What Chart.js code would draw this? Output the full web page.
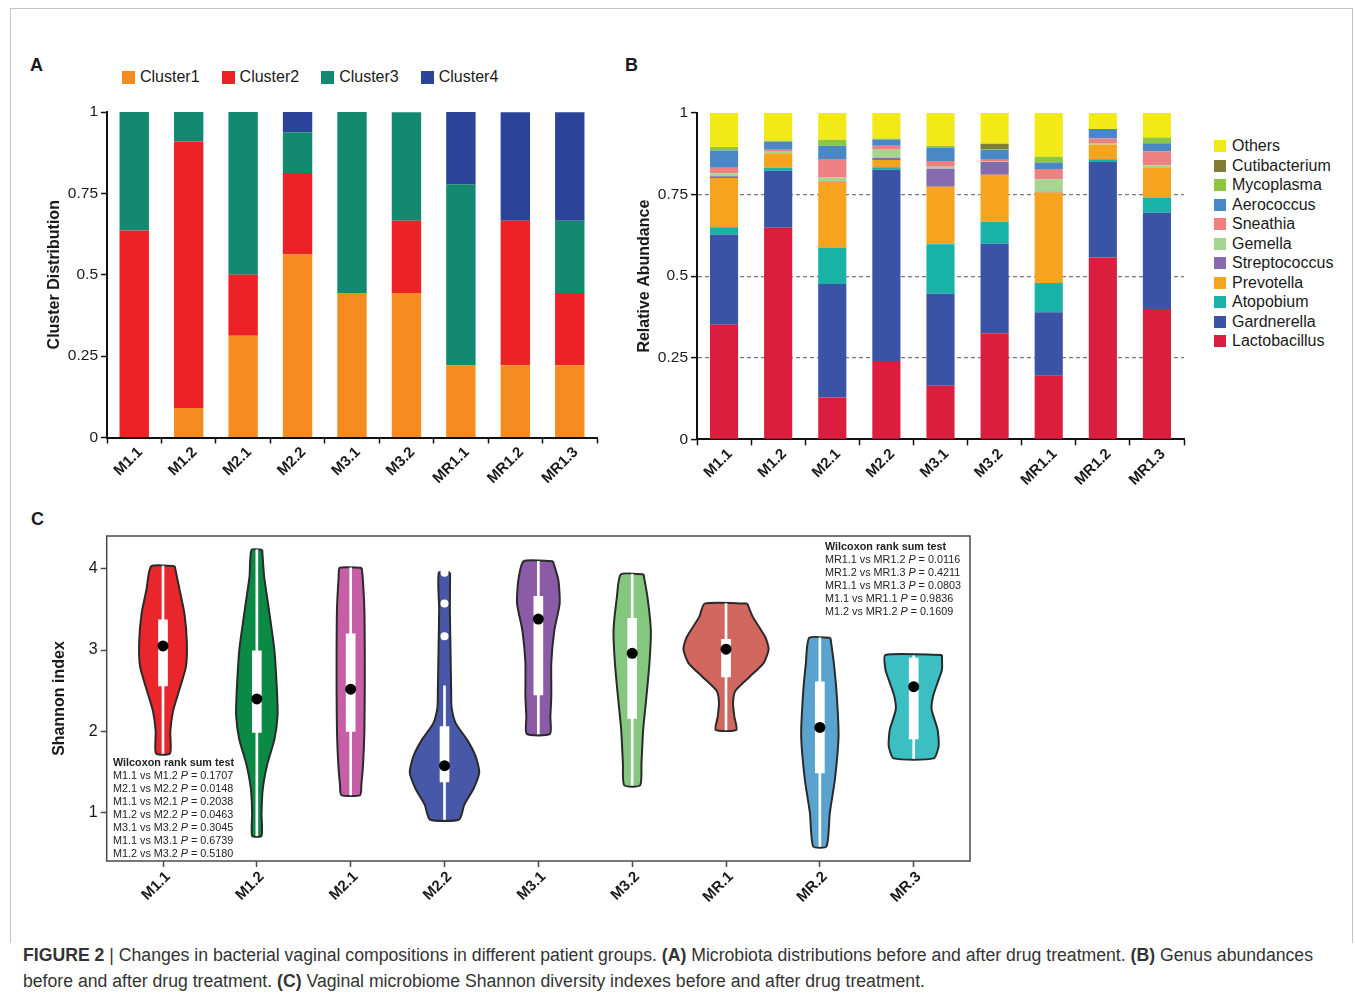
<!DOCTYPE html>
<html>
<head>
<meta charset="utf-8">
<title>Figure 2</title>
<script src="https://cdn.jsdelivr.net/npm/chart.js@4.4.1/dist/chart.umd.min.js"></script>
<style>
  body { margin: 0; width: 1355px; height: 996px; position: relative; overflow: hidden; background: #fff;
         font-family: "Liberation Sans", Arial, sans-serif; color: #1a1a1a; }
  .frame { position: absolute; left: 10px; top: 8px; width: 1341px; height: 934px; border: 1px solid #c4c4c4; border-bottom: 0; }
  canvas { position: absolute; }
  .letter { position: absolute; font-weight: bold; font-size: 18px; }
  .legend-a { position: absolute; left: 122px; top: 68px; display: flex; gap: 22px; font-size: 16px; }
  .legend-a .item { display: flex; align-items: center; }
  .sw { display: inline-block; width: 13px; height: 13px; margin-right: 5px; }
  .legend-b { position: absolute; left: 1214px; top: 136px; font-size: 16px; line-height: 19.5px; white-space: nowrap; }
  .legend-b .sw { width: 12px; height: 12px; margin-right: 6px; vertical-align: -1px; }
  .stats { position: absolute; font-size: 10.8px; line-height: 13px; color: #222; white-space: nowrap; }
  .caption { position: absolute; left: 23px; top: 942px; font-family: "Liberation Sans", Arial, sans-serif;
             font-size: 18px; line-height: 26px; color: #333; white-space: nowrap; }
  .caption span { display: block; transform-origin: 0 50%; width: max-content; }
</style>
</head>
<body>
<div class="frame"></div>

<div class="letter" style="left:30px;top:55px">A</div>
<div class="letter" style="left:625px;top:55px">B</div>
<div class="letter" style="left:31px;top:509px">C</div>

<canvas id="chartA" width="590" height="400" style="left:20px;top:95px"></canvas>
<canvas id="chartB" width="600" height="400" style="left:610px;top:95px"></canvas>
<canvas id="chartC" width="970" height="400" style="left:20px;top:520px"></canvas>

<div class="legend-a" id="legendA"></div>
<div class="legend-b" id="legendB"></div>

<div class="stats" style="left:113px;top:756px">
  <b>Wilcoxon rank sum test</b><br>
  M1.1 vs M1.2 <i>P</i> = 0.1707<br>
  M2.1 vs M2.2 <i>P</i> = 0.0148<br>
  M1.1 vs M2.1 <i>P</i> = 0.2038<br>
  M1.2 vs M2.2 <i>P</i> = 0.0463<br>
  M3.1 vs M3.2 <i>P</i> = 0.3045<br>
  M1.1 vs M3.1 <i>P</i> = 0.6739<br>
  M1.2 vs M3.2 <i>P</i> = 0.5180
</div>
<div class="stats" style="left:825px;top:540px">
  <b>Wilcoxon rank sum test</b><br>
  MR1.1 vs MR1.2 <i>P</i> = 0.0116<br>
  MR1.2 vs MR1.3 <i>P</i> = 0.4211<br>
  MR1.1 vs MR1.3 <i>P</i> = 0.0803<br>
  M1.1 vs MR1.1 <i>P</i> = 0.9836<br>
  M1.2 vs MR1.2 <i>P</i> = 0.1609
</div>

<div class="caption" id="caption">
  <span id="capLine1"><b>FIGURE 2</b> | Changes in bacterial vaginal compositions in different patient groups. <b>(A)</b> Microbiota distributions before and after drug treatment. <b>(B)</b> Genus abundances</span>
  <span id="capLine2">before and after drug treatment. <b>(C)</b> Vaginal microbiome Shannon diversity indexes before and after drug treatment.</span>
</div>

<script>
// ---- panel A: cluster distribution ----
const groupsAB = ['M1.1', 'M1.2', 'M2.1', 'M2.2', 'M3.1', 'M3.2', 'MR1.1', 'MR1.2', 'MR1.3'];
const clusterNames = ['Cluster1', 'Cluster2', 'Cluster3', 'Cluster4'];
const clusterColors = ['#f68b1f', '#ed2227', '#138a70', '#2b4399'];
const cluster1 = [0, 0.091, 0.3125, 0.5625, 0.444, 0.444, 0.222, 0.222, 0.222];
const cluster2 = [0.636, 0.818, 0.1875, 0.25, 0, 0.222, 0, 0.444, 0.222];
const cluster3 = [0.364, 0.091, 0.5, 0.125, 0.556, 0.333, 0.556, 0, 0.222];
const cluster4 = [0, 0, 0, 0.0625, 0, 0, 0.222, 0.333, 0.333];

// ---- panel B: genus abundance (bottom to top) ----
const genusNames = ['Lactobacillus', 'Gardnerella', 'Atopobium', 'Prevotella', 'Streptococcus', 'Gemella',
                    'Sneathia', 'Aerococcus', 'Mycoplasma', 'Cutibacterium', 'Others'];
const genusColors = ['#dc1e3e', '#3a53a4', '#19b2a6', '#f6a31f', '#8769b0', '#a6d58f',
                     '#ef8081', '#4a87c7', '#8dc641', '#807c32', '#f2e918'];
const lactobacillus = [0.351, 0.648, 0.128, 0.240, 0.164, 0.325, 0.195, 0.557, 0.399];
const gardnerella   = [0.277, 0.175, 0.348, 0.586, 0.282, 0.274, 0.194, 0.293, 0.295];
const atopobium     = [0.022, 0.009, 0.112, 0.008, 0.152, 0.068, 0.090, 0.008, 0.047];
const prevotella    = [0.151, 0.045, 0.201, 0.022, 0.176, 0.144, 0.277, 0.045, 0.093];
const streptococcus = [0.005, 0, 0.002, 0.007, 0.055, 0.039, 0.003, 0, 0];
const gemella       = [0.009, 0.004, 0.011, 0.027, 0.006, 0.003, 0.038, 0.005, 0.006];
const sneathia      = [0.017, 0.006, 0.057, 0.010, 0.018, 0.004, 0.031, 0.014, 0.042];
const aerococcus    = [0.053, 0.025, 0.041, 0.018, 0.041, 0.030, 0.020, 0.029, 0.025];
const mycoplasma    = [0.011, 0.003, 0.018, 0.004, 0.005, 0.003, 0.018, 0, 0.018];
const cutibacterium = [0, 0, 0, 0, 0, 0.016, 0, 0, 0];
const others        = [0.104, 0.085, 0.082, 0.078, 0.101, 0.094, 0.134, 0.049, 0.075];
const fractionTicks = [0, 0.25, 0.5, 0.75, 1];

// ---- panel C: Shannon index violins ----
const shannonGroups = ['M1.1', 'M1.2', 'M2.1', 'M2.2', 'M3.1', 'M3.2', 'MR.1', 'MR.2', 'MR.3'];
const violinColors = ['#e8262b', '#0b8a45', '#c65fa6', '#4858a8', '#8a5ca8', '#84c880', '#d1675e', '#5aa3cf', '#3bbfc3'];
// outline levels (top -> bottom) and half widths in category units
const shapeLevels = [
  [4.03, 3.75, 3.45, 3.10, 2.80, 2.50, 2.25, 2.00, 1.73],
  [4.23, 3.90, 3.50, 3.00, 2.50, 2.20, 1.90, 1.60, 1.30, 1.00, 0.72],
  [4.01, 3.90, 3.50, 3.00, 2.50, 2.00, 1.60, 1.35, 1.22],
  [3.95, 3.50, 3.00, 2.50, 2.30, 2.10, 1.90, 1.70, 1.50, 1.30, 1.10, 0.92],
  [4.09, 3.86, 3.57, 3.24, 2.84, 2.43, 2.18, 1.97],
  [3.93, 3.65, 3.24, 2.84, 2.43, 2.02, 1.61, 1.34],
  [3.57, 3.41, 3.16, 3.01, 2.84, 2.67, 2.50, 2.35, 2.18, 2.02],
  [3.15, 2.84, 2.43, 1.94, 1.41, 1.00, 0.59],
  [2.94, 2.76, 2.60, 2.43, 2.27, 2.02, 1.82, 1.67]
];
const shapeWidths = [
  [0.125, 0.175, 0.228, 0.254, 0.245, 0.171, 0.107, 0.078, 0.075],
  [0.057, 0.078, 0.128, 0.187, 0.214, 0.221, 0.187, 0.112, 0.064, 0.050, 0.050],
  [0.117, 0.128, 0.146, 0.150, 0.150, 0.146, 0.132, 0.114, 0.100],
  [0.060, 0.057, 0.064, 0.071, 0.075, 0.120, 0.240, 0.330, 0.370, 0.310, 0.210, 0.157],
  [0.156, 0.213, 0.227, 0.170, 0.138, 0.138, 0.128, 0.124],
  [0.121, 0.163, 0.199, 0.184, 0.152, 0.117, 0.099, 0.085],
  [0.227, 0.284, 0.418, 0.454, 0.400, 0.250, 0.100, 0.075, 0.089, 0.110],
  [0.113, 0.149, 0.181, 0.199, 0.160, 0.106, 0.071],
  [0.301, 0.301, 0.255, 0.206, 0.191, 0.255, 0.266, 0.213]
];
const whiskerLow  = [1.73, 0.72, 1.22, 0.92, 1.97, 1.34, 2.02, 0.59, 1.67];
const whiskerHigh = [4.03, 4.23, 4.01, 2.56, 4.09, 3.93, 3.57, 3.15, 2.93];
const boxLow      = [2.56, 1.99, 2.00, 1.38, 2.45, 2.16, 2.67, 1.49, 1.91];
const boxHigh     = [3.37, 2.99, 3.20, 2.06, 3.66, 3.39, 3.13, 2.61, 2.90];
const meanValues  = [3.05, 2.40, 2.52, 1.58, 3.38, 2.96, 3.01, 2.05, 2.55];
const outlierGroup  = [3, 3, 3];
const outlierValues = [3.95, 3.57, 3.17];
const shannonTicks = [1, 2, 3, 4];

Chart.defaults.font.family = '"Liberation Sans", Arial, sans-serif';
Chart.defaults.color = '#1a1a1a';

const fracLabel = v => String(v);
const xLabelFont = {size: 15, weight: 'bold'};

// caption lines squeezed to the condensed width of the original
const cap1 = document.getElementById('capLine1'), cap2 = document.getElementById('capLine2');
const squeeze = 1290 / cap1.getBoundingClientRect().width;
cap1.style.transform = cap2.style.transform = `scaleX(${squeeze})`;

// legends as html
document.getElementById('legendA').innerHTML = clusterNames.map((n, i) =>
  `<span class="item"><span class="sw" style="background:${clusterColors[i]}"></span>${n}</span>`).join('');
document.getElementById('legendB').innerHTML = genusNames.map((n, i) =>
  `<div><span class="sw" style="background:${genusColors[i]}"></span>${n}</div>`).reverse().join('');

// panel A
const clusterSeries = [cluster1, cluster2, cluster3, cluster4];
new Chart(document.getElementById('chartA'), {
  type: 'bar',
  data: {
    labels: groupsAB,
    datasets: clusterSeries.map((d, i) => ({
      label: clusterNames[i], data: d, backgroundColor: clusterColors[i],
      barPercentage: 0.54, categoryPercentage: 1
    }))
  },
  options: {
    responsive: false, animation: false,
    layout: {padding: {top: 17, right: 13, left: 0, bottom: 0}},
    plugins: {legend: {display: false}, tooltip: {enabled: false}},
    scales: {
      x: {
        stacked: true,
        afterFit: s => { s.height = 57.5; },
        border: {color: '#111', width: 2},
        grid: {drawOnChartArea: false, tickLength: 6, tickColor: '#111', tickWidth: 1.5},
        ticks: {font: xLabelFont, maxRotation: 45, minRotation: 45, autoSkip: false, color: '#1a1a1a',
                labelOffset: 6, padding: 0}
      },
      y: {
        stacked: true, min: 0, max: 1,
        afterFit: s => { s.width = 87; },
        afterBuildTicks: s => { s.ticks = fractionTicks.map(v => ({value: v})); },
        border: {color: '#111', width: 2},
        grid: {drawOnChartArea: false, tickLength: 6, tickColor: '#111', tickWidth: 1.5},
        ticks: {font: {size: 15.5}, callback: fracLabel, padding: 3},
        title: {display: true, text: 'Cluster Distribution', font: {size: 16, weight: 'bold'}, padding: {top: 25, bottom: 0}}
      }
    }
  }
});

// panel B
const genusSeries = [lactobacillus, gardnerella, atopobium, prevotella, streptococcus, gemella,
                     sneathia, aerococcus, mycoplasma, cutibacterium, others];
new Chart(document.getElementById('chartB'), {
  type: 'bar',
  data: {
    labels: groupsAB,
    datasets: genusSeries.map((d, i) => ({
      label: genusNames[i], data: d, backgroundColor: genusColors[i],
      barPercentage: 0.52, categoryPercentage: 1
    }))
  },
  options: {
    responsive: false, animation: false,
    layout: {padding: {top: 18, right: 26, left: 0, bottom: 0}},
    plugins: {legend: {display: false}, tooltip: {enabled: false}},
    scales: {
      x: {
        stacked: true,
        afterFit: s => { s.height = 55.7; },
        border: {color: '#111', width: 2},
        grid: {drawOnChartArea: false, tickLength: 6, tickColor: '#111', tickWidth: 1.5},
        ticks: {font: xLabelFont, maxRotation: 45, minRotation: 45, autoSkip: false, color: '#1a1a1a',
                labelOffset: 6, padding: 0}
      },
      y: {
        stacked: true, min: 0, max: 1,
        afterFit: s => { s.width = 87; },
        afterBuildTicks: s => { s.ticks = fractionTicks.map(v => ({value: v})); },
        border: {color: '#111', width: 2, dash: [4, 3]},
        grid: {
          color: c => (c.tick && c.tick.value > 0 && c.tick.value < 1) ? '#7a7a7a' : 'rgba(0,0,0,0)',
          lineWidth: 1.2, tickLength: 6, tickColor: '#111', tickWidth: 1.5
        },
        ticks: {font: {size: 15.5}, callback: fracLabel, padding: 3},
        title: {display: true, text: 'Relative Abundance', font: {size: 16, weight: 'bold'}, padding: {top: 25, bottom: 0}}
      }
    }
  }
});

// panel C
const framePlugin = {
  id: 'frame',
  beforeDatasetsDraw(chart) {
    const {ctx, chartArea: a} = chart;
    ctx.save();
    ctx.strokeStyle = '#4a4a4a';
    ctx.lineWidth = 1.5;
    ctx.strokeRect(a.left, a.top, a.right - a.left, a.bottom - a.top);
    ctx.restore();
  }
};

const violinSets = shannonGroups.map((g, i) => {
  const ys = shapeLevels[i], ws = shapeWidths[i];
  const pts = ys.map((y, k) => ({x: i + ws[k], y: y}));
  for (let k = ys.length - 1; k >= 0; k--) pts.push({x: i - ws[k], y: ys[k]});
  pts.push(pts[0]);
  return {
    type: 'line', label: g, data: pts, order: 4,
    borderColor: '#2a2a2a', borderWidth: 2, backgroundColor: violinColors[i],
    fill: 'shape', tension: 0.2, pointRadius: 0
  };
});

new Chart(document.getElementById('chartC'), {
  type: 'scatter',
  data: {
    datasets: [
      ...violinSets,
      {
        type: 'bar', label: 'whisker', order: 3, grouped: false, barThickness: 2,
        backgroundColor: '#ffffff',
        data: shannonGroups.map((g, i) => ({x: i, y: [whiskerLow[i], whiskerHigh[i]]}))
      },
      {
        type: 'bar', label: 'box', order: 2, grouped: false, barThickness: 9,
        backgroundColor: '#ffffff',
        data: shannonGroups.map((g, i) => ({x: i, y: [boxLow[i], boxHigh[i]]}))
      },
      {
        type: 'scatter', label: 'outliers', order: 1,
        pointRadius: 4, pointBackgroundColor: '#ffffff', pointBorderWidth: 0,
        data: outlierValues.map((v, k) => ({x: outlierGroup[k], y: v}))
      },
      {
        type: 'scatter', label: 'mean', order: 0,
        pointRadius: 5.5, pointBackgroundColor: '#000000', pointBorderWidth: 0,
        data: meanValues.map((v, i) => ({x: i, y: v}))
      }
    ]
  },
  options: {
    responsive: false, animation: false,
    layout: {padding: {top: 16, right: 20, left: 0, bottom: 0}},
    plugins: {legend: {display: false}, tooltip: {enabled: false}},
    scales: {
      x: {
        type: 'linear', min: -0.6, max: 8.6, offset: false,
        afterFit: s => { s.height = 59; },
        afterBuildTicks: s => { s.ticks = shannonGroups.map((g, i) => ({value: i})); },
        border: {display: false},
        grid: {offset: false, drawOnChartArea: false, tickLength: 6, tickColor: '#4a4a4a', tickWidth: 1.5},
        ticks: {font: xLabelFont, maxRotation: 45, minRotation: 45, autoSkip: false,
                callback: v => shannonGroups[v], color: '#1a1a1a', labelOffset: 5, padding: 1}
      },
      y: {
        type: 'linear', min: 0.41, max: 4.40,
        afterFit: s => { s.width = 86.7; },
        afterBuildTicks: s => { s.ticks = shannonTicks.map(v => ({value: v})); },
        border: {display: false},
        grid: {drawOnChartArea: false, tickLength: 6, tickColor: '#4a4a4a', tickWidth: 1.5},
        ticks: {font: {size: 16}, padding: 3},
        title: {display: true, text: 'Shannon index', font: {size: 16, weight: 'bold'}, padding: {top: 30, bottom: 0}}
      }
    }
  },
  plugins: [framePlugin]
});
</script>
</body>
</html>
